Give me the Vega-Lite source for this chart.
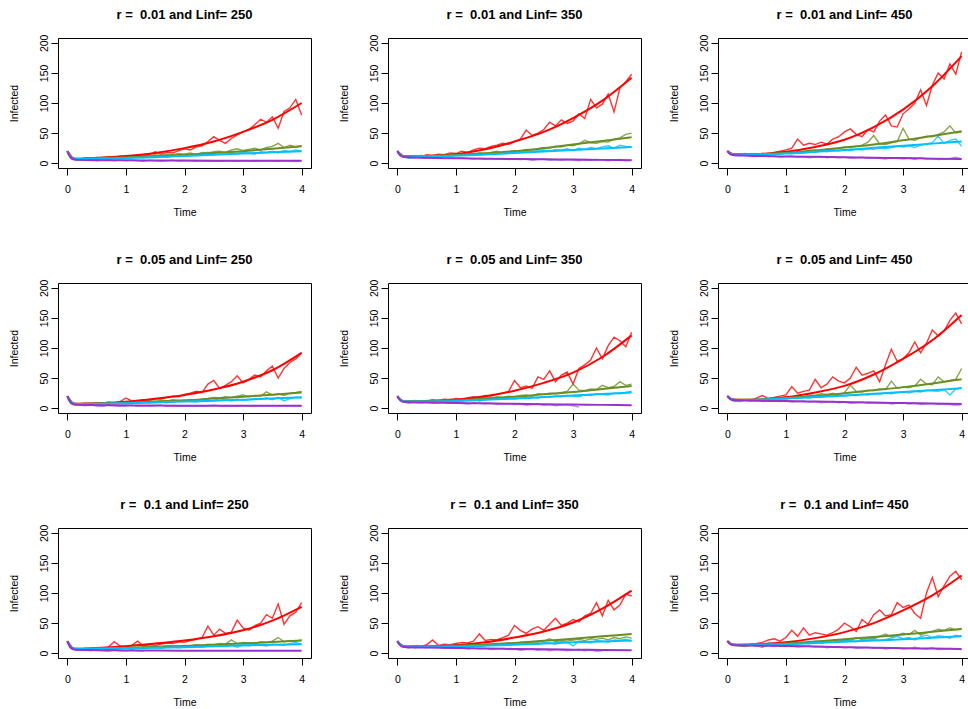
{
"$schema": "https://vega.github.io/schema/vega-lite/v6.json",
"background": "white",
"padding": {"left": 8, "top": 8, "right": 0, "bottom": 0},
"bounds": "flush",
"spacing": {"row": 115, "column": 77},
"columns": 3,
"data": {"values": [
{"p":1,"k":"o","t":0,"R":20,"G":20,"C":19,"P":20},{"p":1,"k":"o","t":0.1,"R":8,"G":8,"C":7,"P":6},{"p":1,"k":"o","t":0.2,"R":7,"G":7,"C":6,"P":5},{"p":1,"k":"o","t":0.3,"R":8,"G":9,"C":7,"P":5},{"p":1,"k":"o","t":0.4,"R":9,"G":8,"C":8,"P":6},{"p":1,"k":"o","t":0.5,"R":8,"G":10,"C":7,"P":4},{"p":1,"k":"o","t":0.6,"R":10,"G":9,"C":9,"P":5},{"p":1,"k":"o","t":0.7,"R":9,"G":11,"C":8,"P":6},{"p":1,"k":"o","t":0.8,"R":11,"G":10,"C":10,"P":4},{"p":1,"k":"o","t":0.9,"R":10,"G":12,"C":9,"P":5},{"p":1,"k":"o","t":1,"R":12,"G":11,"C":9,"P":4},{"p":1,"k":"o","t":1.1,"R":11,"G":12,"C":10,"P":5},{"p":1,"k":"o","t":1.2,"R":13,"G":11,"C":11,"P":4},{"p":1,"k":"o","t":1.3,"R":12,"G":13,"C":9,"P":3},{"p":1,"k":"o","t":1.4,"R":14,"G":12,"C":12,"P":5},{"p":1,"k":"o","t":1.5,"R":19,"G":14,"C":11,"P":4},{"p":1,"k":"o","t":1.6,"R":15,"G":13,"C":13,"P":3},{"p":1,"k":"o","t":1.7,"R":18,"G":15,"C":10,"P":4},{"p":1,"k":"o","t":1.8,"R":17,"G":14,"C":12,"P":5},{"p":1,"k":"o","t":1.9,"R":21,"G":16,"C":13,"P":3},{"p":1,"k":"o","t":2,"R":24,"G":15,"C":12,"P":4},{"p":1,"k":"o","t":2.1,"R":22,"G":17,"C":14,"P":4},{"p":1,"k":"o","t":2.2,"R":27,"G":14,"C":13,"P":3},{"p":1,"k":"o","t":2.3,"R":29,"G":18,"C":15,"P":4},{"p":1,"k":"o","t":2.4,"R":36,"G":17,"C":18,"P":3},{"p":1,"k":"o","t":2.5,"R":44,"G":19,"C":14,"P":4},{"p":1,"k":"o","t":2.6,"R":38,"G":20,"C":16,"P":3},{"p":1,"k":"o","t":2.7,"R":33,"G":18,"C":15,"P":4},{"p":1,"k":"o","t":2.8,"R":41,"G":22,"C":17,"P":4},{"p":1,"k":"o","t":2.9,"R":47,"G":24,"C":16,"P":3},{"p":1,"k":"o","t":3,"R":52,"G":21,"C":18,"P":4},{"p":1,"k":"o","t":3.1,"R":56,"G":23,"C":17,"P":4},{"p":1,"k":"o","t":3.2,"R":64,"G":25,"C":15,"P":3},{"p":1,"k":"o","t":3.3,"R":73,"G":22,"C":19,"P":4},{"p":1,"k":"o","t":3.4,"R":68,"G":26,"C":18,"P":4},{"p":1,"k":"o","t":3.5,"R":77,"G":28,"C":20,"P":4},{"p":1,"k":"o","t":3.6,"R":58,"G":33,"C":17,"P":3},{"p":1,"k":"o","t":3.7,"R":86,"G":26,"C":21,"P":4},{"p":1,"k":"o","t":3.8,"R":92,"G":30,"C":19,"P":4},{"p":1,"k":"o","t":3.9,"R":106,"G":27,"C":22,"P":3},{"p":1,"k":"o","t":4,"R":80,"G":29,"C":20,"P":4},
{"p":2,"k":"o","t":0,"R":20,"G":20,"C":19,"P":20},{"p":2,"k":"o","t":0.1,"R":12,"G":12,"C":10,"P":10},{"p":2,"k":"o","t":0.2,"R":10,"G":10,"C":8,"P":9},{"p":2,"k":"o","t":0.3,"R":12,"G":11,"C":9,"P":10},{"p":2,"k":"o","t":0.4,"R":11,"G":13,"C":11,"P":9},{"p":2,"k":"o","t":0.5,"R":14,"G":12,"C":10,"P":8},{"p":2,"k":"o","t":0.6,"R":13,"G":11,"C":12,"P":9},{"p":2,"k":"o","t":0.7,"R":15,"G":13,"C":11,"P":10},{"p":2,"k":"o","t":0.8,"R":14,"G":12,"C":13,"P":8},{"p":2,"k":"o","t":0.9,"R":17,"G":14,"C":12,"P":9},{"p":2,"k":"o","t":1,"R":16,"G":13,"C":14,"P":8},{"p":2,"k":"o","t":1.1,"R":20,"G":14,"C":13,"P":9},{"p":2,"k":"o","t":1.2,"R":18,"G":16,"C":15,"P":8},{"p":2,"k":"o","t":1.3,"R":22,"G":15,"C":14,"P":7},{"p":2,"k":"o","t":1.4,"R":25,"G":17,"C":16,"P":8},{"p":2,"k":"o","t":1.5,"R":24,"G":16,"C":15,"P":7},{"p":2,"k":"o","t":1.6,"R":28,"G":18,"C":17,"P":8},{"p":2,"k":"o","t":1.7,"R":30,"G":20,"C":16,"P":7},{"p":2,"k":"o","t":1.8,"R":33,"G":17,"C":18,"P":8},{"p":2,"k":"o","t":1.9,"R":31,"G":19,"C":17,"P":6},{"p":2,"k":"o","t":2,"R":36,"G":21,"C":19,"P":7},{"p":2,"k":"o","t":2.1,"R":40,"G":20,"C":18,"P":6},{"p":2,"k":"o","t":2.2,"R":55,"G":23,"C":20,"P":7},{"p":2,"k":"o","t":2.3,"R":46,"G":22,"C":19,"P":5},{"p":2,"k":"o","t":2.4,"R":50,"G":24,"C":21,"P":6},{"p":2,"k":"o","t":2.5,"R":56,"G":26,"C":22,"P":7},{"p":2,"k":"o","t":2.6,"R":68,"G":25,"C":20,"P":5},{"p":2,"k":"o","t":2.7,"R":62,"G":28,"C":23,"P":6},{"p":2,"k":"o","t":2.8,"R":72,"G":27,"C":22,"P":5},{"p":2,"k":"o","t":2.9,"R":66,"G":30,"C":24,"P":6},{"p":2,"k":"o","t":3,"R":70,"G":29,"C":21,"P":5},{"p":2,"k":"o","t":3.1,"R":82,"G":32,"C":25,"P":4},{"p":2,"k":"o","t":3.2,"R":74,"G":38,"C":23,"P":6},{"p":2,"k":"o","t":3.3,"R":106,"G":34,"C":26,"P":5},{"p":2,"k":"o","t":3.4,"R":92,"G":33,"C":24,"P":6},{"p":2,"k":"o","t":3.5,"R":98,"G":36,"C":27,"P":5},{"p":2,"k":"o","t":3.6,"R":115,"G":35,"C":29,"P":4},{"p":2,"k":"o","t":3.7,"R":85,"G":40,"C":25,"P":5},{"p":2,"k":"o","t":3.8,"R":125,"G":42,"C":30,"P":6},{"p":2,"k":"o","t":3.9,"R":135,"G":48,"C":28,"P":4},{"p":2,"k":"o","t":4,"R":148,"G":50,"C":26,"P":5},
{"p":3,"k":"o","t":0,"R":20,"G":20,"C":19,"P":20},{"p":3,"k":"o","t":0.1,"R":15,"G":15,"C":14,"P":13},{"p":3,"k":"o","t":0.2,"R":14,"G":14,"C":15,"P":12},{"p":3,"k":"o","t":0.3,"R":13,"G":13,"C":16,"P":13},{"p":3,"k":"o","t":0.4,"R":15,"G":15,"C":13,"P":11},{"p":3,"k":"o","t":0.5,"R":14,"G":14,"C":14,"P":12},{"p":3,"k":"o","t":0.6,"R":16,"G":16,"C":15,"P":13},{"p":3,"k":"o","t":0.7,"R":15,"G":15,"C":14,"P":11},{"p":3,"k":"o","t":0.8,"R":18,"G":17,"C":16,"P":12},{"p":3,"k":"o","t":0.9,"R":20,"G":16,"C":15,"P":10},{"p":3,"k":"o","t":1,"R":22,"G":18,"C":17,"P":11},{"p":3,"k":"o","t":1.1,"R":25,"G":17,"C":16,"P":12},{"p":3,"k":"o","t":1.2,"R":40,"G":20,"C":18,"P":10},{"p":3,"k":"o","t":1.3,"R":30,"G":19,"C":17,"P":11},{"p":3,"k":"o","t":1.4,"R":33,"G":21,"C":19,"P":9},{"p":3,"k":"o","t":1.5,"R":31,"G":22,"C":18,"P":10},{"p":3,"k":"o","t":1.6,"R":35,"G":20,"C":20,"P":11},{"p":3,"k":"o","t":1.7,"R":32,"G":24,"C":19,"P":9},{"p":3,"k":"o","t":1.8,"R":40,"G":23,"C":21,"P":10},{"p":3,"k":"o","t":1.9,"R":44,"G":25,"C":20,"P":9},{"p":3,"k":"o","t":2,"R":52,"G":27,"C":22,"P":10},{"p":3,"k":"o","t":2.1,"R":57,"G":26,"C":21,"P":8},{"p":3,"k":"o","t":2.2,"R":48,"G":28,"C":23,"P":9},{"p":3,"k":"o","t":2.3,"R":44,"G":30,"C":22,"P":10},{"p":3,"k":"o","t":2.4,"R":56,"G":35,"C":24,"P":8},{"p":3,"k":"o","t":2.5,"R":52,"G":46,"C":23,"P":9},{"p":3,"k":"o","t":2.6,"R":70,"G":32,"C":25,"P":8},{"p":3,"k":"o","t":2.7,"R":80,"G":31,"C":24,"P":7},{"p":3,"k":"o","t":2.8,"R":62,"G":34,"C":26,"P":9},{"p":3,"k":"o","t":2.9,"R":60,"G":36,"C":28,"P":8},{"p":3,"k":"o","t":3,"R":82,"G":58,"C":27,"P":7},{"p":3,"k":"o","t":3.1,"R":90,"G":40,"C":29,"P":8},{"p":3,"k":"o","t":3.2,"R":100,"G":38,"C":26,"P":6},{"p":3,"k":"o","t":3.3,"R":122,"G":42,"C":30,"P":9},{"p":3,"k":"o","t":3.4,"R":96,"G":45,"C":32,"P":7},{"p":3,"k":"o","t":3.5,"R":130,"G":44,"C":34,"P":8},{"p":3,"k":"o","t":3.6,"R":150,"G":48,"C":45,"P":6},{"p":3,"k":"o","t":3.7,"R":140,"G":52,"C":33,"P":7},{"p":3,"k":"o","t":3.8,"R":165,"G":62,"C":38,"P":8},{"p":3,"k":"o","t":3.9,"R":148,"G":50,"C":40,"P":10},{"p":3,"k":"o","t":4,"R":185,"G":52,"C":28,"P":7},
{"p":4,"k":"o","t":0,"R":20,"G":20,"C":19,"P":20},{"p":4,"k":"o","t":0.1,"R":7,"G":8,"C":7,"P":6},{"p":4,"k":"o","t":0.2,"R":6,"G":7,"C":6,"P":5},{"p":4,"k":"o","t":0.3,"R":8,"G":8,"C":8,"P":4},{"p":4,"k":"o","t":0.4,"R":7,"G":7,"C":7,"P":5},{"p":4,"k":"o","t":0.5,"R":9,"G":9,"C":6,"P":4},{"p":4,"k":"o","t":0.6,"R":8,"G":8,"C":8,"P":3},{"p":4,"k":"o","t":0.7,"R":10,"G":10,"C":7,"P":5},{"p":4,"k":"o","t":0.8,"R":9,"G":9,"C":9,"P":4},{"p":4,"k":"o","t":0.9,"R":11,"G":8,"C":8,"P":3},{"p":4,"k":"o","t":1,"R":17,"G":10,"C":7,"P":4},{"p":4,"k":"o","t":1.1,"R":12,"G":9,"C":9,"P":5},{"p":4,"k":"o","t":1.2,"R":11,"G":11,"C":8,"P":3},{"p":4,"k":"o","t":1.3,"R":14,"G":10,"C":10,"P":4},{"p":4,"k":"o","t":1.4,"R":13,"G":12,"C":9,"P":3},{"p":4,"k":"o","t":1.5,"R":16,"G":11,"C":11,"P":4},{"p":4,"k":"o","t":1.6,"R":15,"G":13,"C":10,"P":5},{"p":4,"k":"o","t":1.7,"R":18,"G":12,"C":9,"P":3},{"p":4,"k":"o","t":1.8,"R":20,"G":14,"C":11,"P":4},{"p":4,"k":"o","t":1.9,"R":19,"G":13,"C":12,"P":3},{"p":4,"k":"o","t":2,"R":23,"G":12,"C":13,"P":4},{"p":4,"k":"o","t":2.1,"R":25,"G":14,"C":11,"P":3},{"p":4,"k":"o","t":2.2,"R":28,"G":13,"C":10,"P":4},{"p":4,"k":"o","t":2.3,"R":26,"G":15,"C":12,"P":3},{"p":4,"k":"o","t":2.4,"R":40,"G":16,"C":11,"P":4},{"p":4,"k":"o","t":2.5,"R":46,"G":18,"C":13,"P":5},{"p":4,"k":"o","t":2.6,"R":33,"G":17,"C":16,"P":4},{"p":4,"k":"o","t":2.7,"R":38,"G":19,"C":14,"P":3},{"p":4,"k":"o","t":2.8,"R":44,"G":18,"C":12,"P":4},{"p":4,"k":"o","t":2.9,"R":54,"G":20,"C":15,"P":3},{"p":4,"k":"o","t":3,"R":42,"G":22,"C":13,"P":4},{"p":4,"k":"o","t":3.1,"R":48,"G":19,"C":14,"P":4},{"p":4,"k":"o","t":3.2,"R":55,"G":21,"C":16,"P":3},{"p":4,"k":"o","t":3.3,"R":52,"G":20,"C":15,"P":4},{"p":4,"k":"o","t":3.4,"R":62,"G":27,"C":17,"P":4},{"p":4,"k":"o","t":3.5,"R":70,"G":22,"C":14,"P":4},{"p":4,"k":"o","t":3.6,"R":50,"G":24,"C":18,"P":4},{"p":4,"k":"o","t":3.7,"R":66,"G":21,"C":12,"P":4},{"p":4,"k":"o","t":3.8,"R":76,"G":25,"C":16,"P":4},{"p":4,"k":"o","t":3.9,"R":82,"G":26,"C":18,"P":4},{"p":4,"k":"o","t":4,"R":92,"G":28,"C":17,"P":4},
{"p":5,"k":"o","t":0,"R":20,"G":20,"C":19,"P":20},{"p":5,"k":"o","t":0.1,"R":11,"G":11,"C":10,"P":10},{"p":5,"k":"o","t":0.2,"R":10,"G":10,"C":9,"P":9},{"p":5,"k":"o","t":0.3,"R":13,"G":12,"C":11,"P":10},{"p":5,"k":"o","t":0.4,"R":11,"G":11,"C":12,"P":9},{"p":5,"k":"o","t":0.5,"R":12,"G":13,"C":10,"P":10},{"p":5,"k":"o","t":0.6,"R":14,"G":12,"C":13,"P":8},{"p":5,"k":"o","t":0.7,"R":13,"G":14,"C":12,"P":9},{"p":5,"k":"o","t":0.8,"R":15,"G":13,"C":11,"P":10},{"p":5,"k":"o","t":0.9,"R":14,"G":15,"C":13,"P":8},{"p":5,"k":"o","t":1,"R":16,"G":14,"C":12,"P":9},{"p":5,"k":"o","t":1.1,"R":15,"G":13,"C":14,"P":8},{"p":5,"k":"o","t":1.2,"R":17,"G":15,"C":13,"P":7},{"p":5,"k":"o","t":1.3,"R":19,"G":17,"C":15,"P":9},{"p":5,"k":"o","t":1.4,"R":18,"G":16,"C":12,"P":8},{"p":5,"k":"o","t":1.5,"R":21,"G":18,"C":14,"P":7},{"p":5,"k":"o","t":1.6,"R":20,"G":17,"C":16,"P":8},{"p":5,"k":"o","t":1.7,"R":23,"G":19,"C":15,"P":6},{"p":5,"k":"o","t":1.8,"R":25,"G":18,"C":17,"P":7},{"p":5,"k":"o","t":1.9,"R":28,"G":20,"C":16,"P":8},{"p":5,"k":"o","t":2,"R":46,"G":19,"C":15,"P":6},{"p":5,"k":"o","t":2.1,"R":34,"G":21,"C":17,"P":7},{"p":5,"k":"o","t":2.2,"R":37,"G":22,"C":16,"P":5},{"p":5,"k":"o","t":2.3,"R":33,"G":20,"C":18,"P":6},{"p":5,"k":"o","t":2.4,"R":52,"G":24,"C":17,"P":7},{"p":5,"k":"o","t":2.5,"R":48,"G":23,"C":19,"P":5},{"p":5,"k":"o","t":2.6,"R":62,"G":25,"C":18,"P":6},{"p":5,"k":"o","t":2.7,"R":44,"G":24,"C":20,"P":4},{"p":5,"k":"o","t":2.8,"R":55,"G":26,"C":19,"P":5},{"p":5,"k":"o","t":2.9,"R":60,"G":28,"C":21,"P":6},{"p":5,"k":"o","t":3,"R":40,"G":40,"C":20,"P":4},{"p":5,"k":"o","t":3.1,"R":66,"G":30,"C":19,"P":2},{"p":5,"k":"o","t":3.2,"R":72,"G":29,"C":22},{"p":5,"k":"o","t":3.3,"R":80,"G":32,"C":21},{"p":5,"k":"o","t":3.4,"R":100,"G":31,"C":24},{"p":5,"k":"o","t":3.5,"R":82,"G":38,"C":23},{"p":5,"k":"o","t":3.6,"R":104,"G":34,"C":22},{"p":5,"k":"o","t":3.7,"R":118,"G":36,"C":25},{"p":5,"k":"o","t":3.8,"R":112,"G":44,"C":24},{"p":5,"k":"o","t":3.9,"R":102,"G":38,"C":26},{"p":5,"k":"o","t":4,"R":126,"G":40,"C":28},
{"p":6,"k":"o","t":0,"R":20,"G":20,"C":19,"P":20},{"p":6,"k":"o","t":0.1,"R":13,"G":13,"C":12,"P":13},{"p":6,"k":"o","t":0.2,"R":12,"G":12,"C":11,"P":12},{"p":6,"k":"o","t":0.3,"R":14,"G":14,"C":13,"P":14},{"p":6,"k":"o","t":0.4,"R":13,"G":13,"C":12,"P":12},{"p":6,"k":"o","t":0.5,"R":17,"G":15,"C":14,"P":13},{"p":6,"k":"o","t":0.6,"R":21,"G":14,"C":13,"P":11},{"p":6,"k":"o","t":0.7,"R":16,"G":16,"C":15,"P":12},{"p":6,"k":"o","t":0.8,"R":18,"G":18,"C":14,"P":13},{"p":6,"k":"o","t":0.9,"R":20,"G":17,"C":16,"P":11},{"p":6,"k":"o","t":1,"R":22,"G":19,"C":15,"P":12},{"p":6,"k":"o","t":1.1,"R":36,"G":18,"C":17,"P":10},{"p":6,"k":"o","t":1.2,"R":25,"G":20,"C":16,"P":11},{"p":6,"k":"o","t":1.3,"R":28,"G":19,"C":18,"P":12},{"p":6,"k":"o","t":1.4,"R":30,"G":22,"C":17,"P":10},{"p":6,"k":"o","t":1.5,"R":48,"G":21,"C":19,"P":11},{"p":6,"k":"o","t":1.6,"R":34,"G":24,"C":18,"P":9},{"p":6,"k":"o","t":1.7,"R":40,"G":23,"C":20,"P":10},{"p":6,"k":"o","t":1.8,"R":52,"G":25,"C":19,"P":11},{"p":6,"k":"o","t":1.9,"R":45,"G":22,"C":21,"P":9},{"p":6,"k":"o","t":2,"R":42,"G":26,"C":20,"P":10},{"p":6,"k":"o","t":2.1,"R":50,"G":38,"C":22,"P":8},{"p":6,"k":"o","t":2.2,"R":68,"G":28,"C":21,"P":9},{"p":6,"k":"o","t":2.3,"R":55,"G":27,"C":23,"P":10},{"p":6,"k":"o","t":2.4,"R":58,"G":30,"C":22,"P":8},{"p":6,"k":"o","t":2.5,"R":62,"G":29,"C":24,"P":9},{"p":6,"k":"o","t":2.6,"R":44,"G":32,"C":23,"P":8},{"p":6,"k":"o","t":2.7,"R":72,"G":31,"C":25,"P":9},{"p":6,"k":"o","t":2.8,"R":98,"G":45,"C":24,"P":7},{"p":6,"k":"o","t":2.9,"R":78,"G":33,"C":26,"P":8},{"p":6,"k":"o","t":3,"R":82,"G":35,"C":27,"P":9},{"p":6,"k":"o","t":3.1,"R":92,"G":34,"C":25,"P":7},{"p":6,"k":"o","t":3.2,"R":110,"G":37,"C":28,"P":8},{"p":6,"k":"o","t":3.3,"R":92,"G":48,"C":27,"P":6},{"p":6,"k":"o","t":3.4,"R":108,"G":40,"C":30,"P":7},{"p":6,"k":"o","t":3.5,"R":130,"G":39,"C":29,"P":8},{"p":6,"k":"o","t":3.6,"R":120,"G":52,"C":28,"P":6},{"p":6,"k":"o","t":3.7,"R":128,"G":44,"C":31,"P":7},{"p":6,"k":"o","t":3.8,"R":146,"G":46,"C":22,"P":6},{"p":6,"k":"o","t":3.9,"R":158,"G":48,"C":32,"P":5},{"p":6,"k":"o","t":4,"R":140,"G":66,"C":34,"P":6},
{"p":7,"k":"o","t":0,"R":20,"G":20,"C":19,"P":20},{"p":7,"k":"o","t":0.1,"R":7,"G":8,"C":7,"P":6},{"p":7,"k":"o","t":0.2,"R":6,"G":7,"C":6,"P":5},{"p":7,"k":"o","t":0.3,"R":8,"G":6,"C":8,"P":5},{"p":7,"k":"o","t":0.4,"R":7,"G":8,"C":7,"P":4},{"p":7,"k":"o","t":0.5,"R":9,"G":7,"C":9,"P":5},{"p":7,"k":"o","t":0.6,"R":8,"G":9,"C":8,"P":4},{"p":7,"k":"o","t":0.7,"R":10,"G":8,"C":7,"P":3},{"p":7,"k":"o","t":0.8,"R":19,"G":10,"C":6,"P":5},{"p":7,"k":"o","t":0.9,"R":12,"G":9,"C":9,"P":4},{"p":7,"k":"o","t":1,"R":11,"G":11,"C":8,"P":4},{"p":7,"k":"o","t":1.1,"R":13,"G":10,"C":7,"P":5},{"p":7,"k":"o","t":1.2,"R":20,"G":9,"C":9,"P":4},{"p":7,"k":"o","t":1.3,"R":12,"G":11,"C":8,"P":3},{"p":7,"k":"o","t":1.4,"R":14,"G":10,"C":10},{"p":7,"k":"o","t":1.5,"R":13,"G":12,"C":9},{"p":7,"k":"o","t":1.6,"R":15,"G":11,"C":8},{"p":7,"k":"o","t":1.7,"R":17,"G":13,"C":10},{"p":7,"k":"o","t":1.8,"R":16,"G":12,"C":11},{"p":7,"k":"o","t":1.9,"R":19,"G":11,"C":9},{"p":7,"k":"o","t":2,"R":18,"G":13,"C":10},{"p":7,"k":"o","t":2.1,"R":21,"G":12,"C":12},{"p":7,"k":"o","t":2.2,"R":23,"G":14,"C":11},{"p":7,"k":"o","t":2.3,"R":26,"G":13,"C":10},{"p":7,"k":"o","t":2.4,"R":45,"G":15,"C":12},{"p":7,"k":"o","t":2.5,"R":30,"G":14,"C":11},{"p":7,"k":"o","t":2.6,"R":40,"G":16,"C":13},{"p":7,"k":"o","t":2.7,"R":33,"G":15,"C":12},{"p":7,"k":"o","t":2.8,"R":35,"G":22,"C":14},{"p":7,"k":"o","t":2.9,"R":55,"G":16,"C":10},{"p":7,"k":"o","t":3,"R":42,"G":18,"C":13},{"p":7,"k":"o","t":3.1,"R":38,"G":17,"C":12},{"p":7,"k":"o","t":3.2,"R":46,"G":16,"C":14},{"p":7,"k":"o","t":3.3,"R":50,"G":19,"C":13},{"p":7,"k":"o","t":3.4,"R":64,"G":18,"C":12},{"p":7,"k":"o","t":3.5,"R":58,"G":20,"C":15},{"p":7,"k":"o","t":3.6,"R":82,"G":26,"C":14},{"p":7,"k":"o","t":3.7,"R":48,"G":19,"C":13},{"p":7,"k":"o","t":3.8,"R":62,"G":21,"C":16},{"p":7,"k":"o","t":3.9,"R":68,"G":20,"C":18},{"p":7,"k":"o","t":4,"R":84,"G":22,"C":15},
{"p":8,"k":"o","t":0,"R":20,"G":20,"C":19,"P":20},{"p":8,"k":"o","t":0.1,"R":11,"G":11,"C":10,"P":10},{"p":8,"k":"o","t":0.2,"R":10,"G":10,"C":9,"P":9},{"p":8,"k":"o","t":0.3,"R":12,"G":9,"C":11,"P":11},{"p":8,"k":"o","t":0.4,"R":11,"G":11,"C":10,"P":10},{"p":8,"k":"o","t":0.5,"R":14,"G":10,"C":12,"P":9},{"p":8,"k":"o","t":0.6,"R":22,"G":12,"C":11,"P":11},{"p":8,"k":"o","t":0.7,"R":13,"G":11,"C":13,"P":10},{"p":8,"k":"o","t":0.8,"R":15,"G":10,"C":12,"P":8},{"p":8,"k":"o","t":0.9,"R":14,"G":12,"C":14,"P":9},{"p":8,"k":"o","t":1,"R":16,"G":14,"C":13,"P":8},{"p":8,"k":"o","t":1.1,"R":18,"G":13,"C":15,"P":9},{"p":8,"k":"o","t":1.2,"R":17,"G":12,"C":14,"P":7},{"p":8,"k":"o","t":1.3,"R":20,"G":14,"C":16,"P":8},{"p":8,"k":"o","t":1.4,"R":32,"G":13,"C":13,"P":7},{"p":8,"k":"o","t":1.5,"R":21,"G":15,"C":15,"P":8},{"p":8,"k":"o","t":1.6,"R":23,"G":14,"C":14,"P":6},{"p":8,"k":"o","t":1.7,"R":22,"G":16,"C":16,"P":7},{"p":8,"k":"o","t":1.8,"R":26,"G":15,"C":15,"P":8},{"p":8,"k":"o","t":1.9,"R":30,"G":17,"C":14,"P":6},{"p":8,"k":"o","t":2,"R":46,"G":16,"C":16,"P":7},{"p":8,"k":"o","t":2.1,"R":38,"G":18,"C":15,"P":5},{"p":8,"k":"o","t":2.2,"R":33,"G":17,"C":17,"P":6},{"p":8,"k":"o","t":2.3,"R":40,"G":19,"C":16,"P":7},{"p":8,"k":"o","t":2.4,"R":44,"G":18,"C":14,"P":5},{"p":8,"k":"o","t":2.5,"R":38,"G":20,"C":18,"P":6},{"p":8,"k":"o","t":2.6,"R":48,"G":24,"C":17,"P":4},{"p":8,"k":"o","t":2.7,"R":58,"G":19,"C":15,"P":6},{"p":8,"k":"o","t":2.8,"R":46,"G":21,"C":19,"P":5},{"p":8,"k":"o","t":2.9,"R":50,"G":20,"C":18,"P":4},{"p":8,"k":"o","t":3,"R":56,"G":22,"C":12,"P":5},{"p":8,"k":"o","t":3.1,"R":52,"G":23,"C":20,"P":6},{"p":8,"k":"o","t":3.2,"R":62,"G":21,"C":19,"P":4},{"p":8,"k":"o","t":3.3,"R":66,"G":24,"C":17,"P":5},{"p":8,"k":"o","t":3.4,"R":84,"G":23,"C":21,"P":3},{"p":8,"k":"o","t":3.5,"R":62,"G":25,"C":20,"P":4},{"p":8,"k":"o","t":3.6,"R":88,"G":22,"C":18},{"p":8,"k":"o","t":3.7,"R":72,"G":26,"C":22},{"p":8,"k":"o","t":3.8,"R":80,"G":24,"C":21},{"p":8,"k":"o","t":3.9,"R":98,"G":27,"C":23},{"p":8,"k":"o","t":4,"R":95,"G":25,"C":20},
{"p":9,"k":"o","t":0,"R":20,"G":20,"C":19,"P":20},{"p":9,"k":"o","t":0.1,"R":13,"G":13,"C":14,"P":14},{"p":9,"k":"o","t":0.2,"R":14,"G":12,"C":13,"P":13},{"p":9,"k":"o","t":0.3,"R":12,"G":11,"C":15,"P":12},{"p":9,"k":"o","t":0.4,"R":15,"G":13,"C":14,"P":14},{"p":9,"k":"o","t":0.5,"R":16,"G":12,"C":16,"P":13},{"p":9,"k":"o","t":0.6,"R":18,"G":10,"C":15,"P":12},{"p":9,"k":"o","t":0.7,"R":22,"G":14,"C":17,"P":13},{"p":9,"k":"o","t":0.8,"R":24,"G":13,"C":16,"P":11},{"p":9,"k":"o","t":0.9,"R":20,"G":15,"C":14,"P":12},{"p":9,"k":"o","t":1,"R":26,"G":14,"C":18,"P":11},{"p":9,"k":"o","t":1.1,"R":38,"G":16,"C":17,"P":12},{"p":9,"k":"o","t":1.2,"R":28,"G":15,"C":19,"P":10},{"p":9,"k":"o","t":1.3,"R":42,"G":17,"C":18,"P":11},{"p":9,"k":"o","t":1.4,"R":30,"G":16,"C":16,"P":12},{"p":9,"k":"o","t":1.5,"R":34,"G":18,"C":20,"P":10},{"p":9,"k":"o","t":1.6,"R":32,"G":17,"C":19,"P":11},{"p":9,"k":"o","t":1.7,"R":30,"G":19,"C":18,"P":9},{"p":9,"k":"o","t":1.8,"R":34,"G":18,"C":21,"P":10},{"p":9,"k":"o","t":1.9,"R":40,"G":20,"C":20,"P":11},{"p":9,"k":"o","t":2,"R":50,"G":22,"C":22,"P":9},{"p":9,"k":"o","t":2.1,"R":44,"G":21,"C":21,"P":10},{"p":9,"k":"o","t":2.2,"R":36,"G":26,"C":19,"P":8},{"p":9,"k":"o","t":2.3,"R":56,"G":23,"C":23,"P":9},{"p":9,"k":"o","t":2.4,"R":48,"G":25,"C":22,"P":10},{"p":9,"k":"o","t":2.5,"R":64,"G":24,"C":24,"P":8},{"p":9,"k":"o","t":2.6,"R":72,"G":28,"C":21,"P":9},{"p":9,"k":"o","t":2.7,"R":62,"G":32,"C":23,"P":7},{"p":9,"k":"o","t":2.8,"R":64,"G":27,"C":25,"P":8},{"p":9,"k":"o","t":2.9,"R":84,"G":30,"C":28,"P":9},{"p":9,"k":"o","t":3,"R":76,"G":33,"C":24,"P":7},{"p":9,"k":"o","t":3.1,"R":80,"G":31,"C":26,"P":8},{"p":9,"k":"o","t":3.2,"R":66,"G":38,"C":22,"P":10},{"p":9,"k":"o","t":3.3,"R":58,"G":30,"C":27,"P":8},{"p":9,"k":"o","t":3.4,"R":100,"G":34,"C":30,"P":7},{"p":9,"k":"o","t":3.5,"R":126,"G":36,"C":26,"P":9},{"p":9,"k":"o","t":3.6,"R":94,"G":40,"C":29,"P":6},{"p":9,"k":"o","t":3.7,"R":112,"G":38,"C":28,"P":7},{"p":9,"k":"o","t":3.8,"R":128,"G":42,"C":25,"P":8},{"p":9,"k":"o","t":3.9,"R":136,"G":39,"C":30,"P":7},{"p":9,"k":"o","t":4,"R":122,"G":41,"C":28,"P":6},
{"p":1,"k":"f","t":0,"R":20,"G":20,"C":20,"P":20},{"p":1,"k":"f","t":0.05,"R":11,"G":11,"C":11,"P":10},{"p":1,"k":"f","t":0.1,"R":8,"G":8,"C":7.5,"P":6.5},{"p":1,"k":"f","t":0.2,"R":7.5,"G":7.5,"C":7,"P":5.5},{"p":1,"k":"f","t":0.5,"R":8.5,"G":8,"C":7.5,"P":5},{"p":1,"k":"f","t":1,"R":12,"G":9.5,"C":8.5,"P":4.7},{"p":1,"k":"f","t":1.5,"R":17,"G":11.5,"C":10,"P":4.5},{"p":1,"k":"f","t":2,"R":25,"G":14,"C":12,"P":4.3},{"p":1,"k":"f","t":2.5,"R":36,"G":17,"C":14,"P":4.2},{"p":1,"k":"f","t":3,"R":52,"G":20,"C":16,"P":4.1},{"p":1,"k":"f","t":3.5,"R":72,"G":24,"C":18,"P":4},{"p":1,"k":"f","t":4,"R":100,"G":28,"C":20,"P":4},
{"p":2,"k":"f","t":0,"R":20,"G":20,"C":20,"P":20},{"p":2,"k":"f","t":0.05,"R":14,"G":14,"C":14,"P":13},{"p":2,"k":"f","t":0.1,"R":12,"G":12,"C":11.5,"P":10.5},{"p":2,"k":"f","t":0.2,"R":11.5,"G":11.5,"C":11,"P":10},{"p":2,"k":"f","t":0.5,"R":12,"G":12,"C":11.5,"P":9},{"p":2,"k":"f","t":1,"R":15,"G":13.5,"C":12.5,"P":8.2},{"p":2,"k":"f","t":1.5,"R":23,"G":16.5,"C":14.5,"P":7.5},{"p":2,"k":"f","t":2,"R":36,"G":20,"C":17,"P":7},{"p":2,"k":"f","t":2.5,"R":52,"G":25,"C":19.5,"P":6.5},{"p":2,"k":"f","t":3,"R":75,"G":31,"C":22,"P":6},{"p":2,"k":"f","t":3.5,"R":104,"G":37,"C":24.5,"P":5.5},{"p":2,"k":"f","t":4,"R":142,"G":43,"C":27,"P":5},
{"p":3,"k":"f","t":0,"R":20,"G":20,"C":20,"P":20},{"p":3,"k":"f","t":0.05,"R":16,"G":16,"C":16,"P":15},{"p":3,"k":"f","t":0.1,"R":15,"G":15,"C":14.5,"P":13.5},{"p":3,"k":"f","t":0.2,"R":14.5,"G":14.5,"C":14,"P":13},{"p":3,"k":"f","t":0.5,"R":15,"G":15,"C":14.5,"P":12},{"p":3,"k":"f","t":1,"R":19,"G":17,"C":16,"P":11},{"p":3,"k":"f","t":1.5,"R":27,"G":21,"C":19,"P":10.5},{"p":3,"k":"f","t":2,"R":39,"G":26,"C":22,"P":10},{"p":3,"k":"f","t":2.5,"R":60,"G":31,"C":25.5,"P":9},{"p":3,"k":"f","t":3,"R":89,"G":38,"C":29,"P":8.5},{"p":3,"k":"f","t":3.5,"R":128,"G":45,"C":32.5,"P":7.5},{"p":3,"k":"f","t":4,"R":178,"G":53,"C":36,"P":7},
{"p":4,"k":"f","t":0,"R":20,"G":20,"C":20,"P":20},{"p":4,"k":"f","t":0.05,"R":11,"G":11,"C":11,"P":10},{"p":4,"k":"f","t":0.1,"R":8,"G":8,"C":7.5,"P":6.5},{"p":4,"k":"f","t":0.2,"R":7.5,"G":7.5,"C":7,"P":5.5},{"p":4,"k":"f","t":0.5,"R":8,"G":8,"C":7.2,"P":5},{"p":4,"k":"f","t":1,"R":10.5,"G":9,"C":8,"P":4.6},{"p":4,"k":"f","t":1.5,"R":15.5,"G":11,"C":9.5,"P":4.4},{"p":4,"k":"f","t":2,"R":22,"G":13,"C":11,"P":4.2},{"p":4,"k":"f","t":2.5,"R":31,"G":16,"C":12.5,"P":4.1},{"p":4,"k":"f","t":3,"R":44,"G":19,"C":14,"P":4},{"p":4,"k":"f","t":3.5,"R":63,"G":22.5,"C":16,"P":4},{"p":4,"k":"f","t":4,"R":92,"G":26,"C":18,"P":4},
{"p":5,"k":"f","t":0,"R":20,"G":20,"C":20,"P":20},{"p":5,"k":"f","t":0.05,"R":14,"G":14,"C":14,"P":13},{"p":5,"k":"f","t":0.1,"R":12,"G":12,"C":11.5,"P":10.5},{"p":5,"k":"f","t":0.2,"R":11.5,"G":11.5,"C":11,"P":10},{"p":5,"k":"f","t":0.5,"R":11.5,"G":11.5,"C":11.2,"P":9.5},{"p":5,"k":"f","t":1,"R":14,"G":13,"C":12,"P":8.7},{"p":5,"k":"f","t":1.5,"R":20,"G":16,"C":14,"P":8},{"p":5,"k":"f","t":2,"R":29,"G":19,"C":16,"P":7.2},{"p":5,"k":"f","t":2.5,"R":42,"G":23,"C":18.5,"P":6.5},{"p":5,"k":"f","t":3,"R":59,"G":27,"C":21,"P":6},{"p":5,"k":"f","t":3.5,"R":85,"G":32,"C":23.5,"P":5.5},{"p":5,"k":"f","t":4,"R":121,"G":37,"C":26,"P":5},
{"p":6,"k":"f","t":0,"R":20,"G":20,"C":20,"P":20},{"p":6,"k":"f","t":0.05,"R":16,"G":16,"C":16,"P":15},{"p":6,"k":"f","t":0.1,"R":14.5,"G":14.5,"C":14,"P":13.5},{"p":6,"k":"f","t":0.2,"R":14,"G":14,"C":13.5,"P":13},{"p":6,"k":"f","t":0.5,"R":14,"G":14.5,"C":14,"P":12.5},{"p":6,"k":"f","t":1,"R":18,"G":17,"C":16,"P":11.8},{"p":6,"k":"f","t":1.5,"R":26,"G":20.5,"C":18.5,"P":11},{"p":6,"k":"f","t":2,"R":37,"G":25,"C":21,"P":10.2},{"p":6,"k":"f","t":2.5,"R":56,"G":30,"C":24,"P":9.3},{"p":6,"k":"f","t":3,"R":82,"G":35,"C":27,"P":8.5},{"p":6,"k":"f","t":3.5,"R":113,"G":41,"C":30,"P":7.7},{"p":6,"k":"f","t":4,"R":155,"G":48,"C":33,"P":7},
{"p":7,"k":"f","t":0,"R":20,"G":20,"C":20,"P":20},{"p":7,"k":"f","t":0.05,"R":11,"G":11,"C":11,"P":10},{"p":7,"k":"f","t":0.1,"R":8,"G":8,"C":7.5,"P":6.5},{"p":7,"k":"f","t":0.2,"R":7.5,"G":7.5,"C":7,"P":5.5},{"p":7,"k":"f","t":0.5,"R":8.5,"G":8,"C":7.2,"P":5},{"p":7,"k":"f","t":1,"R":11.5,"G":9,"C":8,"P":4.6},{"p":7,"k":"f","t":1.5,"R":16,"G":10.5,"C":9,"P":4.4},{"p":7,"k":"f","t":2,"R":21,"G":12,"C":10,"P":4.2},{"p":7,"k":"f","t":2.5,"R":28,"G":14,"C":11.5,"P":4.1},{"p":7,"k":"f","t":3,"R":38,"G":16,"C":13,"P":4},{"p":7,"k":"f","t":3.5,"R":54,"G":18.5,"C":14,"P":4},{"p":7,"k":"f","t":4,"R":77,"G":21,"C":15,"P":4},
{"p":8,"k":"f","t":0,"R":20,"G":20,"C":20,"P":20},{"p":8,"k":"f","t":0.05,"R":14,"G":14,"C":14,"P":13},{"p":8,"k":"f","t":0.1,"R":12,"G":12,"C":11.5,"P":10.5},{"p":8,"k":"f","t":0.2,"R":11,"G":11,"C":10.5,"P":10},{"p":8,"k":"f","t":0.5,"R":11,"G":11,"C":10.5,"P":9.5},{"p":8,"k":"f","t":1,"R":13,"G":12,"C":11,"P":8.5},{"p":8,"k":"f","t":1.5,"R":18,"G":14.5,"C":12.5,"P":7.8},{"p":8,"k":"f","t":2,"R":26,"G":17,"C":14,"P":7},{"p":8,"k":"f","t":2.5,"R":36,"G":20.5,"C":16,"P":6.4},{"p":8,"k":"f","t":3,"R":51,"G":24,"C":18,"P":5.9},{"p":8,"k":"f","t":3.5,"R":74,"G":28,"C":19.5,"P":5.4},{"p":8,"k":"f","t":4,"R":104,"G":32,"C":21,"P":5},
{"p":9,"k":"f","t":0,"R":20,"G":20,"C":20,"P":20},{"p":9,"k":"f","t":0.05,"R":16,"G":16,"C":16,"P":15},{"p":9,"k":"f","t":0.1,"R":14.5,"G":14.5,"C":14,"P":13.5},{"p":9,"k":"f","t":0.2,"R":14,"G":14,"C":13.5,"P":13},{"p":9,"k":"f","t":0.5,"R":14.5,"G":14.5,"C":14,"P":12.5},{"p":9,"k":"f","t":1,"R":18,"G":16,"C":15,"P":12},{"p":9,"k":"f","t":1.5,"R":25,"G":19.5,"C":17,"P":11},{"p":9,"k":"f","t":2,"R":35,"G":23,"C":19,"P":10},{"p":9,"k":"f","t":2.5,"R":50,"G":27,"C":21,"P":9},{"p":9,"k":"f","t":3,"R":71,"G":31,"C":23,"P":8.3},{"p":9,"k":"f","t":3.5,"R":96,"G":35.5,"C":25.5,"P":7.6},{"p":9,"k":"f","t":4,"R":129,"G":40,"C":28,"P":7}
]},
"transform": [
 {"fold": ["R","G","C","P"], "as": ["s","v"]},
 {"filter": "isValid(datum.v)"}
],
"facet": {"field": "p", "type": "ordinal", "sort": "ascending",
 "header": {"title": null, "labelFontSize": 13, "labelFontWeight": "bold", "labelFont": "Liberation Sans", "labelColor": "black", "labelPadding": 12,
  "labelExpr": "['r = \u00a00.01 and Linf= 250','r = \u00a00.01 and Linf= 350','r = \u00a00.01 and Linf= 450','r = \u00a00.05 and Linf= 250','r = \u00a00.05 and Linf= 350','r = \u00a00.05 and Linf= 450','r = \u00a00.1 and Linf= 250','r = \u00a00.1 and Linf= 350','r = \u00a00.1 and Linf= 450'][+datum.value - 1]"}},
"spec": {
 "width": 253, "height": 130,
 "layer": [
  {"transform": [{"filter": "datum.k == 'o'"}],
   "mark": {"type": "line", "strokeWidth": 1.4, "opacity": 0.8},
   "encoding": {
    "x": {"field": "t", "type": "quantitative", "scale": {"domain": [-0.16, 4.16], "nice": false, "zero": false}, "axis": {"title": "Time", "values": [0,1,2,3,4]}},
    "y": {"field": "v", "type": "quantitative", "scale": {"domain": [-8, 208], "nice": false, "zero": false}, "axis": {"title": "Infected", "values": [0,50,100,150,200]}},
    "color": {"field": "s", "type": "nominal", "scale": {"domain": ["R","G","C","P"], "range": ["#FF0000","#6B8E23","#00BFFF","#B070E0"]}, "legend": null}
   }},
  {"transform": [{"filter": "datum.k == 'f'"}],
   "mark": {"type": "line", "strokeWidth": 2, "interpolate": "monotone"},
   "encoding": {
    "x": {"field": "t", "type": "quantitative", "axis": {"title": "Time", "values": [0,1,2,3,4]}},
    "y": {"field": "v", "type": "quantitative", "axis": {"title": "Infected", "values": [0,50,100,150,200]}},
    "color": {"field": "s", "type": "nominal", "scale": {"domain": ["R","G","C","P"], "range": ["#FF0000","#6B8E23","#00BFFF","#9932CC"]}, "legend": null}
   }}
 ],
 "resolve": {"scale": {"color": "independent"}}
},
"resolve": {"axis": {"x": "independent", "y": "independent"}},
"config": {
 "font": "Liberation Sans",
 "view": {"stroke": "black", "strokeWidth": 1},
 "axis": {"grid": false, "domain": false, "tickColor": "black", "tickSize": 7, "labelColor": "black", "titleColor": "black", "labelFontSize": 10.5, "titleFontSize": 10.5, "titleFontWeight": "normal", "labelFont": "Liberation Sans", "titleFont": "Liberation Sans", "labelFlush": false, "labelOverlap": false, "labelBound": false},
 "axisY": {"labelAngle": -90, "labelAlign": "center", "labelBaseline": "bottom", "labelPadding": 2, "titlePadding": 20},
 "axisX": {"labelPadding": 9, "titlePadding": 13}
}
}
